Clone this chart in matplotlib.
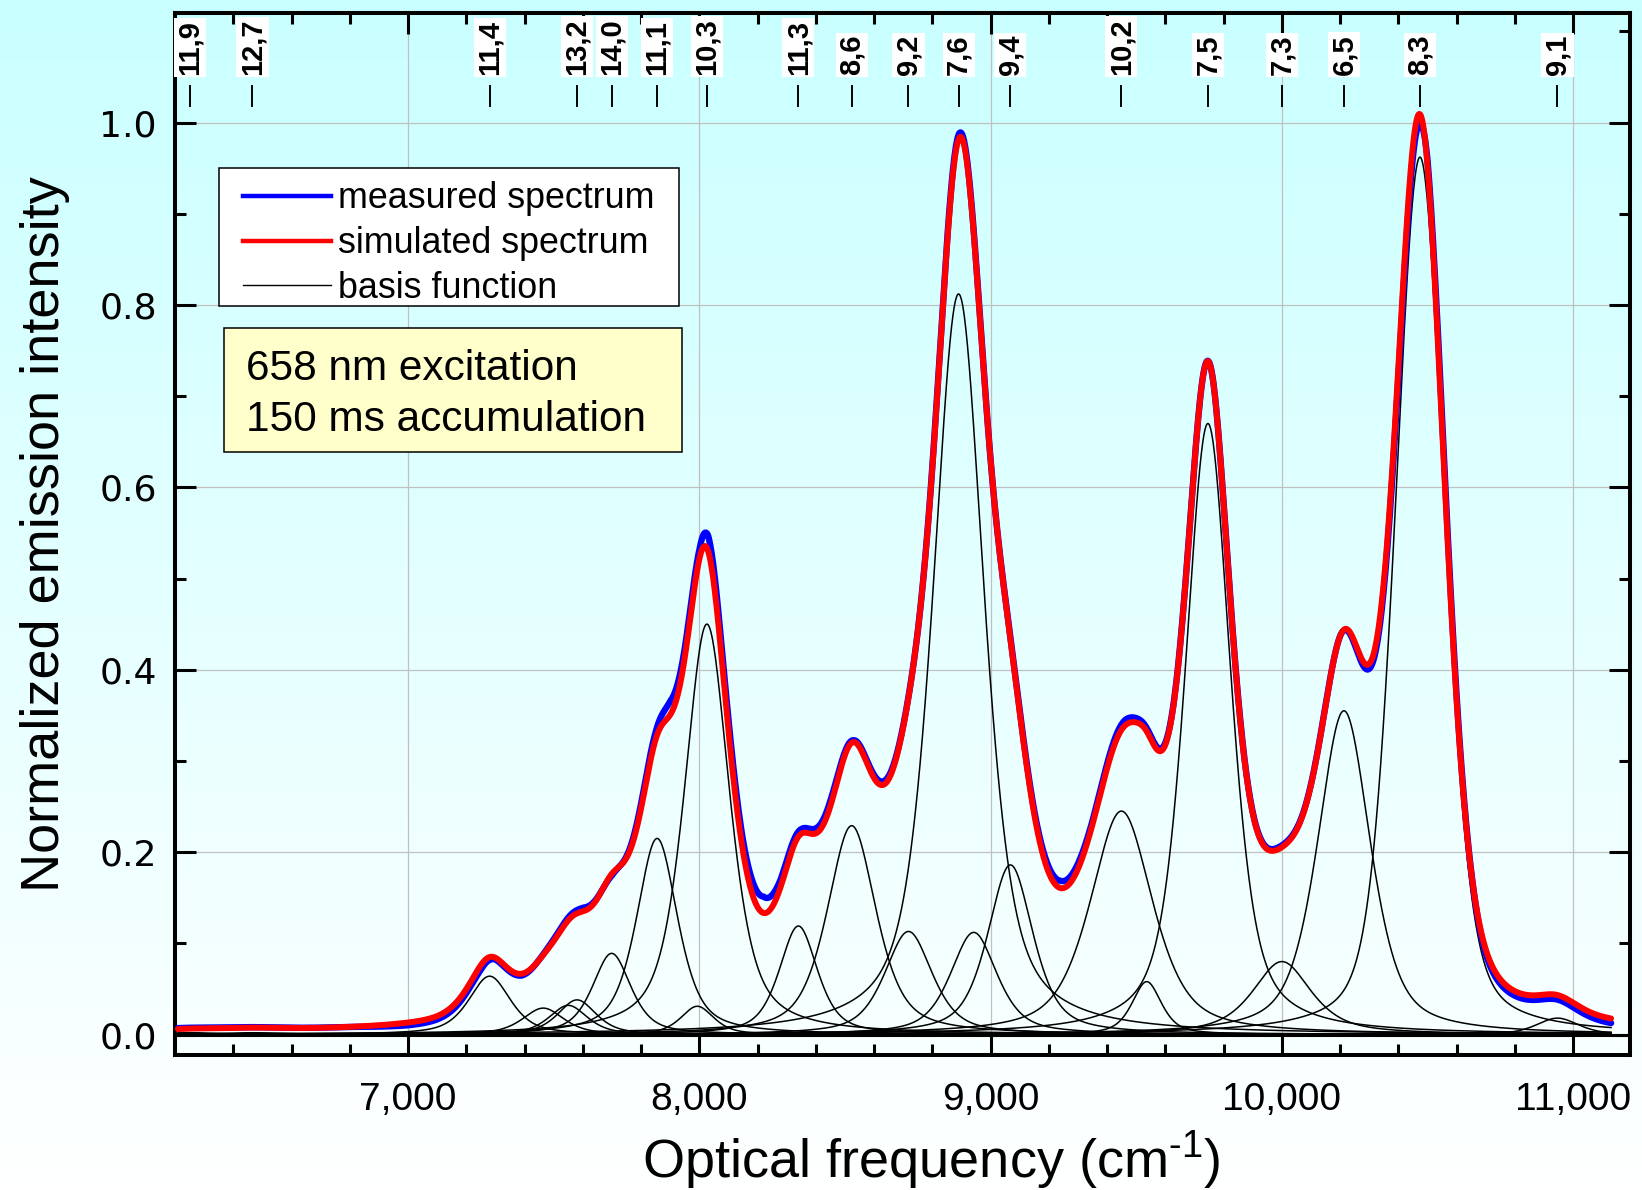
import numpy as np
import matplotlib
matplotlib.use("Agg")
import matplotlib.pyplot as plt
from matplotlib.patches import Rectangle
from matplotlib.lines import Line2D

plt.rcParams["font.family"] = ["Liberation Sans", "DejaVu Sans"]
plt.rcParams["mathtext.fontset"] = "custom"
plt.rcParams["mathtext.rm"] = "Liberation Sans"
plt.rcParams["mathtext.it"] = "Liberation Sans:italic"

NARROW = ["Liberation Sans Narrow", "Liberation Sans"]

# Basis functions of the fit: chirality (n,m) label ('' = sideband),
# centre (cm-1), peak height, FWHM (cm-1) and Lorentzian fraction.
PEAK_LABEL = ["11,9", "12,7", "11,4", "", "", "13,2", "14,0", "11,1", "", "10,3",
              "11,3", "8,6", "9,2", "7,6", "", "9,4", "10,2", "", "7,5", "7,3",
              "6,5", "8,3", "9,1"]
PEAK_CENTER = [6250, 6466, 7280, 7464, 7550, 7580, 7699, 7855, 7993, 8026,
               8340, 8523, 8718, 8890, 8942, 9068, 9449, 9536, 9746, 10000,
               10213, 10474, 10946]
PEAK_HEIGHT = [0.002, 0.002, 0.064, 0.029, 0.032, 0.038, 0.089, 0.215, 0.031, 0.450,
               0.119, 0.229, 0.113, 0.812, 0.112, 0.186, 0.245, 0.058, 0.670, 0.080,
               0.355, 0.962, 0.018]
PEAK_FWHM = [260, 260, 170, 168, 156, 156, 156, 168, 135, 184,
             156, 200, 194, 210, 190, 185, 255, 120, 185, 240,
             215, 200, 170]
PEAK_ETA = [0.5, 0.5, 0.6, 0.6, 0.6, 0.6, 0.6, 0.6, 0.6, 0.6,
            0.6, 0.6, 0.6, 0.6, 0.6, 0.6, 0.6, 0.6, 0.55, 0.7,
            0.55, 0.35, 0.5]

# Measured minus simulated intensity, read at these frequencies.
MEAS_X = [6210, 6800, 7000, 7150, 7250, 7300, 7390, 7500, 7600, 7700,
          7780, 7850, 7900, 7950, 8000, 8030, 8080, 8150, 8220, 8280,
          8350, 8450, 8530, 8630, 8750, 8890, 9000, 9150, 9240, 9350,
          9460, 9560, 9700, 9990, 10200, 10420, 10474, 10500, 10540, 10600,
          10700, 10900, 11130]
MEAS_DEV = [0.001, 0.000, -0.003, -0.004, -0.005, -0.002, -0.002, 0.002, 0.004, -0.002,
            0.004, 0.008, 0.015, 0.010, 0.010, 0.017, 0.012, 0.012, 0.018, 0.008,
            0.005, 0.006, 0.002, 0.004, 0.000, 0.005, 0.000, 0.004, 0.008, 0.004,
            0.006, 0.003, 0.000, 0.002, 0.000, -0.012, -0.012, 0.006, 0.012, 0.006,
            -0.005, -0.005, -0.005]

X_TICKS = [7000, 8000, 9000, 10000, 11000]
X_TICKLABELS = ["7,000", "8,000", "9,000", "10,000", "11,000"]
Y_TICKS = [0.0, 0.2, 0.4, 0.6, 0.8, 1.0]
Y_TICKLABELS = ["0.0", "0.2", "0.4", "0.6", "0.8", "1.0"]


def pseudo_voigt(x, c, a, w, eta):
    u = (x - c) / (w / 2.0)
    return a * ((1 - eta) * np.exp(-np.log(2) * u ** 2) + eta / (1 + u ** 2))


nu = np.linspace(6210, 11130, 3000)
basis = [pseudo_voigt(nu, c, a, w, e)
         for c, a, w, e in zip(PEAK_CENTER, PEAK_HEIGHT, PEAK_FWHM, PEAK_ETA)]
simulated = np.sum(basis, axis=0)
measured = simulated + np.interp(nu, MEAS_X, MEAS_DEV)

fig = plt.figure(figsize=(16.42, 11.90), dpi=100)

# vertical cyan-to-white wash behind everything
bg = fig.add_axes([0, 0, 1, 1], zorder=-10)
grad = np.linspace(0, 1, 256)[:, None]
top_c = np.array([0.79, 1.0, 1.0])
bot_c = np.array([1.0, 1.0, 1.0])
img = top_c[None, None, :] * (1 - grad[:, :, None]) + bot_c[None, None, :] * grad[:, :, None]
bg.imshow(img, aspect="auto", extent=[0, 1, 0, 1], origin="upper")
bg.set_axis_off()

ax = fig.add_axes([0.10658, 0.11378, 0.88611, 0.87563])
ax.set_facecolor("none")

for b in basis:
    ax.plot(nu, b, color="black", lw=1.1, zorder=2)
ax.axhline(0, color="black", lw=2.2, zorder=2.5)
ax.plot(nu, measured, color="#0000ff", lw=4.6, zorder=3, solid_capstyle="round")
ax.plot(nu, simulated, color="#ff0000", lw=4.3, zorder=4, solid_capstyle="round")

ax.set_xlim(6200, 11195)
ax.set_ylim(-0.022, 1.1205)

ax.set_xticks(X_TICKS)
ax.set_xticklabels(X_TICKLABELS, fontfamily=NARROW, fontsize=28)
ax.set_xticks(np.arange(6400, 11195, 200), minor=True)
ax.set_yticks(Y_TICKS)
ax.set_yticklabels(Y_TICKLABELS, fontfamily="DejaVu Sans", fontsize=26)
ax.set_yticks(np.arange(0.1, 1.12, 0.2), minor=True)

ax.tick_params(which="both", direction="in", top=True, right=True, width=2.2)
ax.tick_params(which="major", length=15)
ax.tick_params(which="minor", length=8)
ax.tick_params(axis="x", which="major", pad=20)
ax.tick_params(axis="y", which="major", pad=13)
for s in ax.spines.values():
    s.set_linewidth(2.9)

ax.grid(True, which="major", color="#c0c0c0", lw=0.9)
ax.set_axisbelow(True)

ax.set_xlabel(r"Optical frequency (cm$^{\text{-}1}$)", fontsize=39)
ax.xaxis.set_label_coords(0.52, -0.072)
ax.set_ylabel("Normalized emission intensity", fontsize=39)
ax.yaxis.set_label_coords(-0.072, 0.5)

# chirality markers along the top
for lab, c in zip(PEAK_LABEL, PEAK_CENTER):
    if not lab:
        continue
    ax.text(c, 1.052, lab, rotation=90, ha="center", va="bottom",
            fontsize=21, fontweight="bold", fontfamily=NARROW, zorder=6,
            bbox=dict(facecolor="white", edgecolor="none", pad=1.5))
    ax.plot([c, c], [1.018, 1.040], color="black", lw=1.4, zorder=6)

# legend with its own frame
ax.add_patch(Rectangle((0.0302, 0.7184), 0.3162, 0.1326, transform=ax.transAxes,
                       facecolor="white", edgecolor="black", lw=1.1, zorder=7))
handles = [Line2D([], [], color="#0000ff", lw=3.2),
           Line2D([], [], color="#ff0000", lw=3.2),
           Line2D([], [], color="black", lw=1.0)]
ax.legend(handles, ["measured spectrum", "simulated spectrum", "basis function"],
          loc="upper left", bbox_to_anchor=(0.0467, 0.838), borderaxespad=0,
          borderpad=0, frameon=False, fontsize=25.8, handlelength=2.45,
          handletextpad=0.2, labelspacing=0.27).set_zorder(8)

# measurement conditions
ax.add_patch(Rectangle((0.0337, 0.5783), 0.3148, 0.1190, transform=ax.transAxes,
                       facecolor="#ffffcc", edgecolor="black", lw=1.1, zorder=7))
ax.text(0.0488, 0.6575, "658 nm excitation", transform=ax.transAxes,
        fontsize=30.5, va="center", ha="left", zorder=8)
ax.text(0.0488, 0.6092, "150 ms accumulation", transform=ax.transAxes,
        fontsize=30.5, va="center", ha="left", zorder=8)

fig.savefig("out.png", dpi=100)
